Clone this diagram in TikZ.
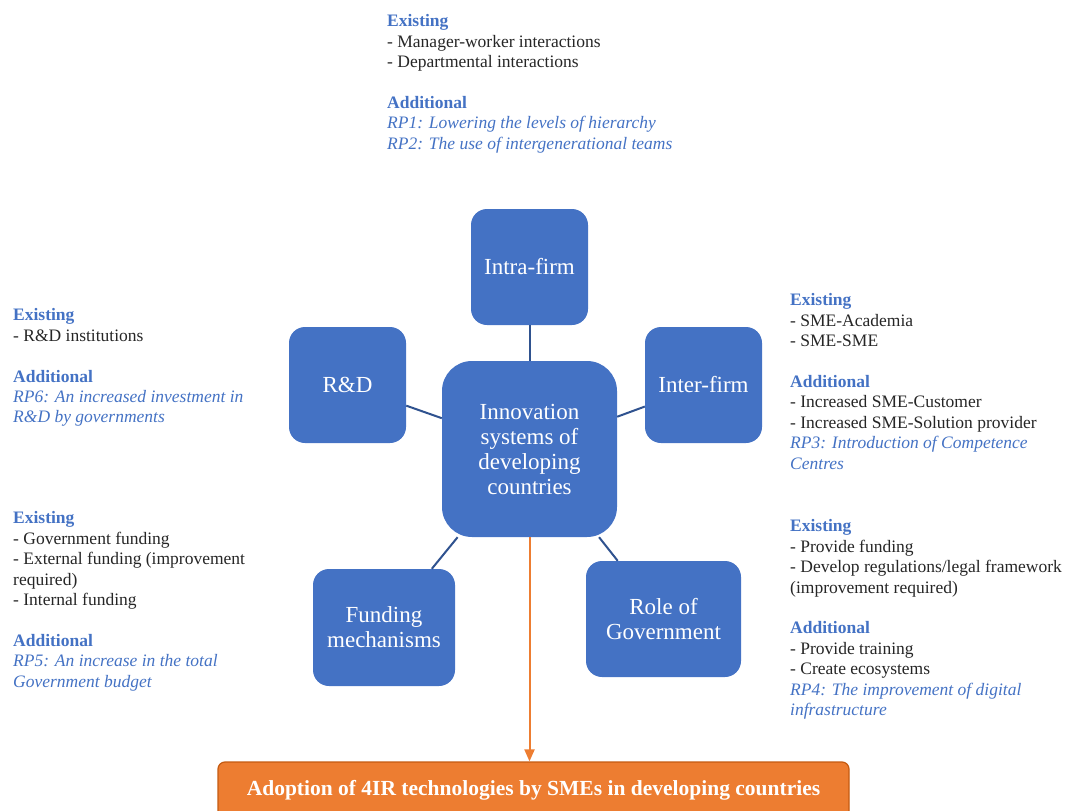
\documentclass[tikz,border=0pt]{standalone}
\usepackage{fontspec}
\setmainfont{Liberation Serif}
\usetikzlibrary{arrows.meta}

\definecolor{bleu}{HTML}{4472C4}
\definecolor{bleufonce}{HTML}{2F528F}
\definecolor{orangevif}{HTML}{ED7D31}
\definecolor{orangefonce}{HTML}{C55A11}
\definecolor{gristexte}{HTML}{262626}

\newcommand{\titre}[1]{{\bfseries\color{bleu}#1}}
\newcommand{\piste}[1]{{\itshape\color{bleu}#1}}

\begin{document}
\begin{tikzpicture}[x=1pt, y=-1pt,
    bloc/.style={fill=bleu, rounded corners=16pt, text=white, align=center, inner sep=0pt,
      minimum width=117pt, minimum height=116pt, font=\fontsize{23}{25}\selectfont},
    texte/.style={anchor=north west, inner sep=0pt, align=left, text=gristexte,
      font=\fontsize{17.5}{20.4}\selectfont},
    liaison/.style={draw=bleufonce, line width=2pt},
    fleche/.style={draw=orangevif, line width=2pt, -{Triangle[width=10pt, length=12pt]}}]
    \useasboundingbox (0,0) rectangle (1069,811);
    % Blocs
    \node[bloc] at (529.5,267) (intra) {Intra-firm};
    \node[bloc] at (347.5,385) (rd) {R\&D};
    \node[bloc] at (703.5,385) (inter) {Inter-firm};
    \node[bloc, minimum width=175pt, minimum height=176pt, rounded corners=30pt] at (529.5,449) (centre)
      {Innovation\\systems of\\developing\\countries};
    \node[bloc, minimum width=142pt, minimum height=117pt] at (384,627.5) (fin) {Funding\\mechanisms};
    \node[bloc, minimum width=155pt, minimum height=116pt] at (663.5,619) (gouv) {Role of\\Government};
    \node[draw=orangefonce, fill=orangevif, line width=1.2pt, rounded corners=7pt, text=white,
      minimum width=631pt, minimum height=56pt, font=\bfseries\fontsize{21.5}{24}\selectfont]
      at (533.5,790) (adoption) {Adoption of 4IR technologies by SMEs in developing countries};
    % Liaisons
    \path (centre) edge[liaison] (intra) edge[liaison] (rd) edge[liaison] (inter)
                   edge[liaison] (fin) edge[liaison] (gouv);
    \draw[fleche] (centre.south) -- (centre.south |- adoption.north);
    % Textes
    \node[texte] at (387,14.5) (t-intra) {\titre{Existing}\\- Manager-worker interactions\\- Departmental interactions\\[20.4pt]
      \titre{Additional}\\\piste{RP1: Lowering the levels of hierarchy}\\\piste{RP2: The use of intergenerational teams}};
    \node[texte] at (13,308.5) (t-rd) {\titre{Existing}\\- R\&D institutions\\[20.4pt]
      \titre{Additional}\\\piste{RP6: An increased investment in}\\\piste{R\&D by governments}};
    \node[texte] at (790,293.5) (t-inter) {\titre{Existing}\\- SME-Academia\\- SME-SME\\[20.4pt]
      \titre{Additional}\\- Increased SME-Customer\\- Increased SME-Solution provider\\
      \piste{RP3: Introduction of Competence}\\\piste{Centres}};
    \node[texte] at (13,511.5) (t-fin) {\titre{Existing}\\- Government funding\\- External funding (improvement\\required)\\- Internal funding\\[20.4pt]
      \titre{Additional}\\\piste{RP5: An increase in the total}\\\piste{Government budget}};
    \node[texte] at (790,519.5) (t-gouv) {\titre{Existing}\\- Provide funding\\- Develop regulations/legal framework\\(improvement required)\\[20.4pt]
      \titre{Additional}\\- Provide training\\- Create ecosystems\\\piste{RP4: The improvement of digital}\\\piste{infrastructure}};
\end{tikzpicture}
\end{document}
